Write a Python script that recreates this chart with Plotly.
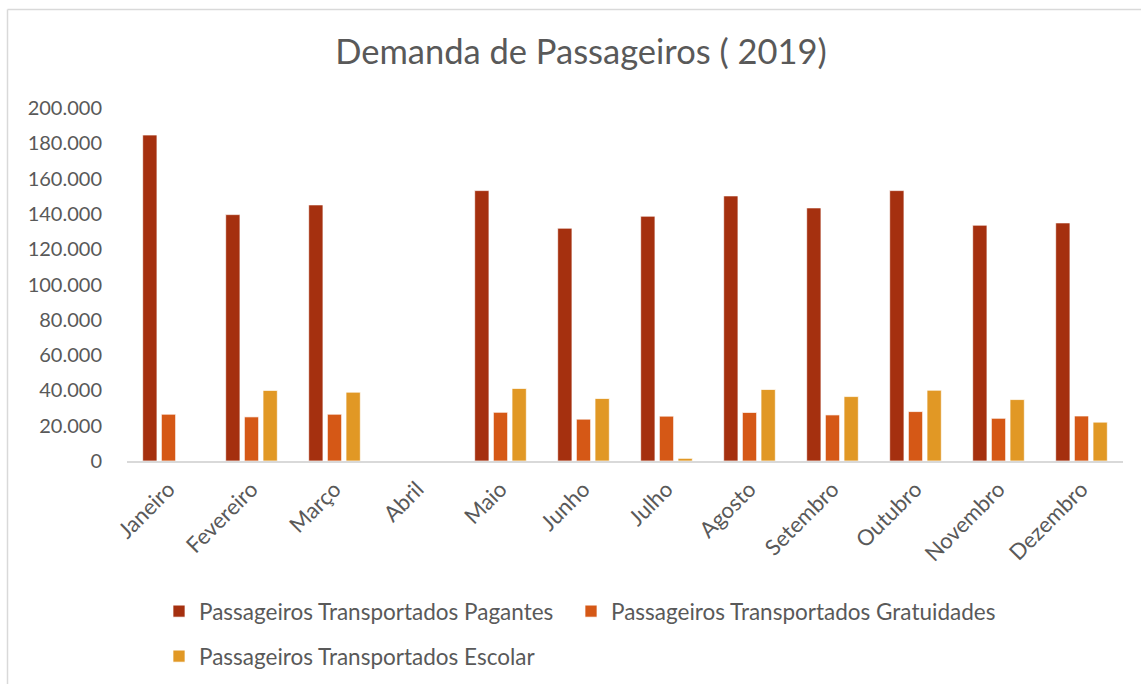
import plotly.graph_objects as go

meses = ["Janeiro", "Fevereiro", "Março", "Abril", "Maio", "Junho", "Julho",
         "Agosto", "Setembro", "Outubro", "Novembro", "Dezembro"]
pagantes = [184700, 139600, 145100, None, 153200, 131900, 138700,
            150200, 143400, 153200, 133600, 134900]
gratuidades = [26500, 25000, 26500, None, 27600, 23700, 25400,
               27500, 26100, 28000, 24200, 25500]
escolar = [None, 40000, 39000, None, 41100, 35400, 1500,
           40500, 36500, 40100, 34800, 22000]

y_ticks = list(range(0, 200001, 20000))

FONT = "Lato"
TXT = "#595959"
W, H = 1141, 684
L, R, T, B = 127, 18, 108, 223
PW, PH = W - L - R, H - T - B


def px_x(px):
    return (px - L) / PW


def px_y(py):
    return (H - B - py) / PH


fig = go.Figure()
series = [
    ("Passageiros Transportados Pagantes", pagantes, "#A5300F", "legend"),
    ("Passageiros Transportados Gratuidades", gratuidades, "#D55816", "legend3"),
    ("Passageiros Transportados Escolar", escolar, "#E19825", "legend2"),
]
for name, vals, color, leg in series:
    fig.add_trace(go.Bar(
        x=meses, y=vals, name=name, legend=leg, showlegend=True,
        marker=dict(color=color, line=dict(color="rgba(255,255,255,0.7)", width=1)),
    ))

leg_common = dict(orientation="h", xref="container", yref="container",
                  xanchor="left", yanchor="middle", visible=True,
                  font=dict(size=22.5, color=TXT, family=FONT),
                  bgcolor="rgba(0,0,0,0)")

fig.update_layout(
    width=W, height=H, showlegend=True,
    paper_bgcolor="white", plot_bgcolor="white",
    margin=dict(l=L, r=R, t=T, b=B, autoexpand=False),
    separators=",.",
    barmode="group", bargap=0.325, bargroupgap=0.235,
    font=dict(family=FONT, color=TXT, size=20),
    title=dict(text="Demanda de Passageiros ( 2019)", x=581 / W, xref="container",
               y=1 - 52 / H, yref="container", xanchor="center", yanchor="middle",
               font=dict(family=FONT, size=34.5, color=TXT)),
    xaxis=dict(showgrid=False, showline=True, linecolor="#D9D9D9", linewidth=1.5,
               tickangle=-45, ticks="", automargin=False, ticklabelstandoff=5,
               tickfont=dict(size=22, color=TXT)),
    yaxis=dict(range=[0, 200000], tickvals=y_ticks, tickformat=",d", showgrid=False,
               showline=False, zeroline=False, ticks="", ticklabelstandoff=24,
               automargin=False, tickfont=dict(size=20, color=TXT)),
    legend=dict(x=159 / W, y=1 - 611.5 / H, **leg_common),
    legend3=dict(x=571 / W, y=1 - 611.5 / H, **leg_common),
    legend2=dict(x=159 / W, y=1 - 656.5 / H, **leg_common),
    shapes=[
        dict(type="line", xref="paper", yref="paper",
             x0=px_x(7.5), x1=px_x(1160), y0=px_y(9.5), y1=px_y(9.5),
             line=dict(color="#D9D9D9", width=1.5)),
        dict(type="line", xref="paper", yref="paper",
             x0=px_x(7.5), x1=px_x(7.5), y0=px_y(9.5), y1=px_y(700),
             line=dict(color="#D9D9D9", width=1.5)),
    ],
)

fig.write_html("out.html", config={"displayModeBar": False},
               post_script="document.body.style.margin='0px';document.body.style.overflow='hidden';")
